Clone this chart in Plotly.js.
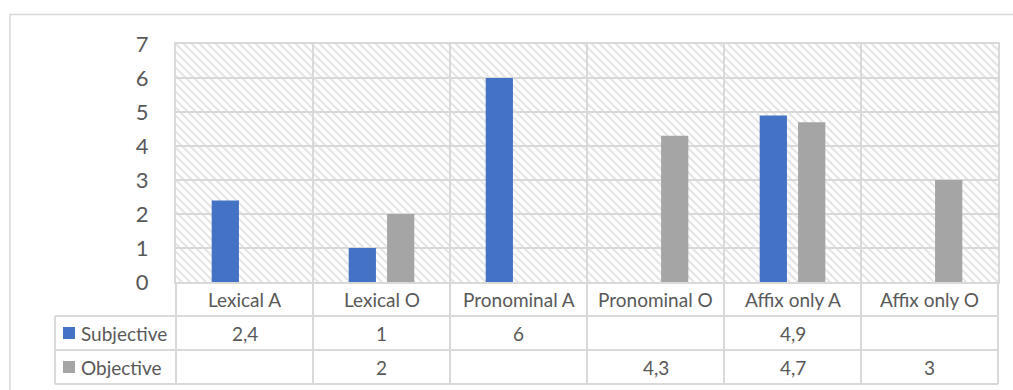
<!DOCTYPE html>
<html>
<head>
<meta charset="utf-8">
<script src="https://cdn.plot.ly/plotly-3.0.1.min.js"></script>
<style>
  html, body { margin: 0; padding: 0; background: #ffffff; }
  #chart { width: 1013px; height: 390px; }
</style>
</head>
<body>
<div id="chart"></div>
<script>
// Categories and series values (the data table repeats them below the plot)
const categories = ['Lexical A', 'Lexical O', 'Pronominal A', 'Pronominal O', 'Affix only A', 'Affix only O'];
const subjective = [2.4, 1, 6, null, 4.9, null];
const objective  = [null, 2, null, 4.3, 4.7, 3];
const seriesNames = ['Subjective', 'Objective'];
const seriesColors = ['#4472C4', '#A5A5A5'];
const yTickValues = [0, 1, 2, 3, 4, 5, 6, 7];

const seriesValues = [subjective, objective];
const yMax = 7;
const gridColor = '#d9d9d9';
const textColor = '#595959';
const fontFamily = 'Lato, "Open Sans", sans-serif';

// Plot area size in pixels (used for the hatched background tile)
const W = 1013, H = 390;
const margin = { l: 176, r: 15, t: 44, b: 108 };
const plotW = W - margin.l - margin.r;
const plotH = H - margin.t - margin.b;

// Helpers: category index -> paper x, value units -> paper y
const nCat = categories.length;
const px = i => (i + 0.5) / nCat;          // category centre
const pb = k => k / nCat;                  // category boundary k = 0..n
const py = v => v / yMax;                  // value units (negative = table rows)
const pxFromPixel = p => (p - margin.l) / plotW;
const pyFromPixel = p => (H - margin.b - p) / plotH;

const traces = seriesValues.map((vals, s) => ({
  type: 'bar',
  name: seriesNames[s],
  x: categories,
  y: vals,
  marker: { color: seriesColors[s] },
  hoverinfo: 'skip',
  showlegend: false
}));

// Hatched plot-area background (light downward diagonal)
const hatchSvg =
  '<svg xmlns="http://www.w3.org/2000/svg" width="' + plotW + '" height="' + plotH + '">' +
  '<defs><pattern id="h" width="8" height="8" patternUnits="userSpaceOnUse">' +
  '<path d="M-2,-2 L10,10 M-2,6 L2,10 M6,-2 L10,2" stroke="#e5e5e5" stroke-width="2.2"/>' +
  '</pattern></defs>' +
  '<rect width="100%" height="100%" fill="#ffffff"/>' +
  '<rect width="100%" height="100%" fill="url(#h)"/></svg>';

const shapes = [];
const annotations = [];
const line = (x0, y0, x1, y1) => shapes.push({
  type: 'line', xref: 'paper', yref: 'paper', x0, y0, x1, y1,
  line: { color: gridColor, width: 2 }
});

// Outer chart-area border
shapes.push({
  type: 'rect', xref: 'paper', yref: 'paper',
  x0: pxFromPixel(10), x1: 1.2, y0: -0.7, y1: pyFromPixel(14.5),
  line: { color: gridColor, width: 1.5 }, fillcolor: 'rgba(0,0,0,0)', layer: 'below'
});

// Data table: one row of category names, then one row per series
const nRows = 1 + seriesNames.length;
const legendColLeft = pxFromPixel(55);
for (let k = 0; k <= nCat; k++) line(pb(k), py(0), pb(k), py(-nRows));
for (let r = 1; r <= nRows; r++) line(legendColLeft, py(-r), 1, py(-r));
line(legendColLeft, py(-1), legendColLeft, py(-nRows));

categories.forEach((c, i) => annotations.push({
  xref: 'paper', yref: 'paper', x: px(i), y: py(-0.5),
  text: c, showarrow: false, xanchor: 'center', yanchor: 'middle',
  font: { family: fontFamily, size: 19, color: textColor }
}));

seriesNames.forEach((name, s) => {
  const rowMid = -(s + 1.5);
  // legend key square
  const keyTop = py(rowMid) + 6 / plotH;
  shapes.push({
    type: 'rect', xref: 'paper', yref: 'paper',
    x0: pxFromPixel(63), x1: pxFromPixel(75),
    y0: keyTop - 12 / plotH, y1: keyTop,
    line: { width: 0 }, fillcolor: seriesColors[s]
  });
  annotations.push({
    xref: 'paper', yref: 'paper', x: pxFromPixel(79), y: py(rowMid),
    text: name, showarrow: false, xanchor: 'left', yanchor: 'middle',
    font: { family: fontFamily, size: 19, color: textColor }
  });
  seriesValues[s].forEach((v, i) => {
    if (v === null) return;
    annotations.push({
      xref: 'paper', yref: 'paper', x: px(i), y: py(rowMid),
      text: String(v).replace('.', ','), showarrow: false,
      xanchor: 'center', yanchor: 'middle',
      font: { family: fontFamily, size: 19, color: textColor }
    });
  });
});

const layout = {
  width: W, height: H,
  margin: margin,
  paper_bgcolor: '#ffffff',
  plot_bgcolor: 'rgba(0,0,0,0)',
  barmode: 'group',
  bargap: 0.44,
  bargroupgap: 0.29,
  font: { family: fontFamily, color: textColor },
  xaxis: {
    type: 'category',
    range: [-0.5, nCat - 0.5],
    showticklabels: false,
    ticks: '',
    tickson: 'boundaries',
    showgrid: true, gridcolor: gridColor, gridwidth: 2,
    showline: true, mirror: true, linecolor: gridColor, linewidth: 2,
    zeroline: false, fixedrange: true
  },
  yaxis: {
    range: [0, yMax],
    tickvals: yTickValues,
    ticktext: yTickValues.map(String),
    ticks: '',
    ticklabelstandoff: 21,
    tickfont: { family: fontFamily, size: 22, color: textColor },
    showgrid: true, gridcolor: gridColor, gridwidth: 2,
    showline: true, mirror: true, linecolor: gridColor, linewidth: 2,
    zeroline: false, fixedrange: true
  },
  images: [{
    source: 'data:image/svg+xml;charset=utf-8,' + encodeURIComponent(hatchSvg),
    xref: 'paper', yref: 'paper', x: 0, y: 1, sizex: 1, sizey: 1,
    sizing: 'stretch', xanchor: 'left', yanchor: 'top', layer: 'below'
  }],
  shapes: shapes,
  annotations: annotations
};

Plotly.newPlot('chart', traces, layout, { staticPlot: true, displayModeBar: false });
</script>
</body>
</html>
